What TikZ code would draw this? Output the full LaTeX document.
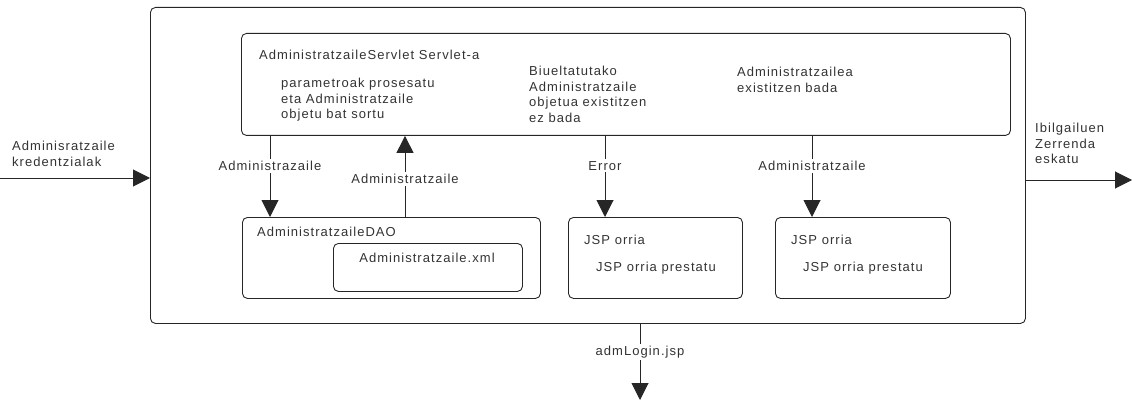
\documentclass[tikz,border=0pt]{standalone}
\usepackage{fontspec}
\setmainfont[LetterSpace=8]{Liberation Sans}
\usetikzlibrary{arrows.meta}
\definecolor{txt}{HTML}{333333}
\begin{document}
\begin{tikzpicture}[x=1pt,y=-1pt,
  box/.style={draw=black!85,line width=0.9pt,rounded corners=5pt},
  lbl/.style={font=\fontsize{13}{15.5}\selectfont,text=txt,inner sep=1pt,align=left},
  edge/.style={draw=black!85,line width=1pt,-{Triangle[length=17pt,width=17pt]}},
  elab/.style={lbl,fill=white,inner sep=2pt}]
\useasboundingbox (0,0) rectangle (1132,401);
% boxes
\node[box,minimum width=875pt,minimum height=316pt,anchor=north west] (outer) at (150,7) {};
\node[box,minimum width=769pt,minimum height=102pt,anchor=north west] (servlet) at (241,33) {};
\node[box,minimum width=298pt,minimum height=81pt,anchor=north west] (dao) at (242,217) {};
\node[box,minimum width=189pt,minimum height=48pt,anchor=north west] (xml) at (333,243) {};
\node[box,minimum width=174pt,minimum height=81pt,anchor=north west] (jsp1) at (568,217) {};
\node[box,minimum width=175pt,minimum height=81pt,anchor=north west] (jsp2) at (775,217) {};
% texts
\node[lbl,anchor=west] (t1) at (258,55) {AdministratzaileServlet Servlet-a};
\node[lbl,anchor=north west] (t2) at (280,77) {parametroak prosesatu\\eta Administratzaile\\objetu bat sortu};
\node[lbl,anchor=north west] (t3) at (528,65) {Biueltatutako\\Administratzaile\\objetua existitzen\\ez bada};
\node[lbl,anchor=north west] (t4) at (736,66) {Administratzailea\\existitzen bada};
\node[lbl,anchor=west] (t5) at (256,232) {AdministratzaileDAO};
\node[lbl] (t6) at (427,258) {Administratzaile.xml};
\node[lbl,anchor=west] (t7) at (583,240) {JSP orria};
\node[lbl,anchor=west] (t8) at (595,268) {JSP orria prestatu};
\node[lbl,anchor=west] (t9) at (790,240) {JSP orria};
\node[lbl,anchor=west] (t10) at (802,268) {JSP orria prestatu};
% coordinates
\coordinate (inS) at (0,178);
\coordinate (inE) at (150,178);
\coordinate (outS) at (1025,180);
\coordinate (outE) at (1132,180);
\coordinate (botS) at (640,323);
\coordinate (botE) at (640,400);
% connectors
\draw[edge] (servlet.south -| 270,0) -- node[elab,pos=0.37] {Administrazaile} (dao.north -| 270,0);
\draw[edge] (dao.north -| 405,0) -- node[elab,pos=0.47] {Administratzaile} (servlet.south -| 405,0);
\draw[edge] (servlet.south -| 605,0) -- node[elab,pos=0.37] {Error} (jsp1.north -| 605,0);
\draw[edge] (servlet.south -| 812,0) -- node[elab,pos=0.37] {Administratzaile} (jsp2.north -| 812,0);
\draw[edge] (inS) -- (inE);
\draw[edge] (outS) -- (outE);
\draw[edge] (botS) -- node[elab,pos=0.38] {admLogin.jsp} (botE);
\node[lbl,anchor=north west] (inL) at (11,140) {Adminisratzaile\\kredentzialak};
\node[lbl,anchor=north west] (outL) at (1034,122) {Ibilgailuen\\Zerrenda\\eskatu};
\end{tikzpicture}
\end{document}
